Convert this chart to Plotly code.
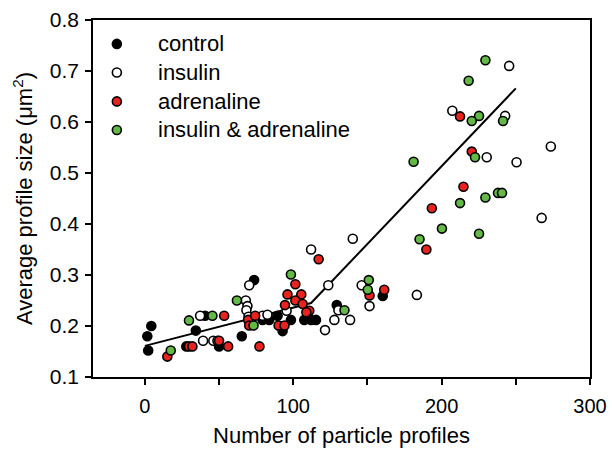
import plotly.graph_objects as go

# ---- data ----
control_x = [2.2, 1.6, 4.3, 34.3, 27.9, 40.5, 50.0, 65.3, 73.6, 79.3, 83.8, 89.4, 92.8,
             98.4, 107.4, 112.0, 115.3, 129.3, 160.3]
control_y = [0.152, 0.180, 0.200, 0.191, 0.160, 0.220, 0.160, 0.180, 0.290, 0.212, 0.212,
             0.220, 0.190, 0.212, 0.212, 0.212, 0.212, 0.241, 0.259]

insulin_x = [37.2, 39.2, 46.1, 48.9, 68.0, 69.1, 68.4, 69.8, 70.3, 79.3, 82.6, 95.5, 112.0,
             123.6, 121.4, 127.7, 130.4, 138.3, 140.1, 146.1, 151.4, 183.3, 207.2, 242.8,
             245.5, 230.4, 250.5, 273.6, 267.4]
insulin_y = [0.220, 0.171, 0.171, 0.171, 0.250, 0.239, 0.231, 0.218, 0.280, 0.220, 0.222,
             0.230, 0.350, 0.280, 0.192, 0.212, 0.231, 0.212, 0.371, 0.280, 0.239, 0.261,
             0.622, 0.612, 0.710, 0.531, 0.521, 0.552, 0.412]

adrenaline_x = [15.1, 29.7, 32.0, 53.4, 50.0, 56.1, 77.2, 69.6, 74.3, 70.3, 90.1, 94.1,
                101.4, 96.1, 105.4, 101.4, 94.4, 106.3, 110.8, 108.8, 117.1, 151.4, 161.3,
                189.7, 193.4, 212.4, 220.3, 214.7]
adrenaline_y = [0.140, 0.160, 0.160, 0.220, 0.171, 0.160, 0.160, 0.212, 0.220, 0.201, 0.201,
                0.201, 0.282, 0.262, 0.262, 0.250, 0.241, 0.243, 0.230, 0.227, 0.331, 0.260,
                0.271, 0.350, 0.431, 0.611, 0.542, 0.473]

both_x = [17.4, 29.7, 45.5, 62.0, 73.2, 98.4, 134.5, 150.9, 150.2, 181.1, 185.1, 200.2,
          212.4, 225.2, 229.5, 238.0, 240.7, 218.2, 229.5, 225.2, 220.3, 241.4, 222.5]
both_y = [0.152, 0.211, 0.220, 0.250, 0.201, 0.301, 0.231, 0.290, 0.271, 0.522, 0.370,
          0.391, 0.441, 0.381, 0.452, 0.461, 0.461, 0.681, 0.721, 0.612, 0.602, 0.602, 0.531]

trend_x = [0, 112, 250]
trend_y = [0.161, 0.245, 0.666]

series_names = ["control", "insulin", "adrenaline", "insulin & adrenaline"]
series_colors = ["black", "white", "#E8231F", "#62B946"]

x_ticks = [0, 100, 200, 300]
x_minor_ticks = [50, 150, 250]
y_ticks = [0.1, 0.2, 0.3, 0.4, 0.5, 0.6, 0.7, 0.8]

FONT = "Liberation Sans, Arial, sans-serif"

fig = go.Figure()

fig.add_trace(go.Scatter(x=trend_x, y=trend_y, mode="lines",
                         line=dict(color="black", width=2), showlegend=False,
                         hoverinfo="skip"))

data = [(control_x, control_y), (insulin_x, insulin_y),
        (adrenaline_x, adrenaline_y), (both_x, both_y)]
for name, col, (xs, ys) in zip(series_names, series_colors, data):
    fig.add_trace(go.Scatter(
        x=xs, y=ys, mode="markers", name=name, showlegend=False,
        marker=dict(size=9, color=col, line=dict(color="black", width=1.6)),
    ))

# legend drawn as shapes + annotations (paper coordinates)
leg_marker_x = 0.048
leg_text_x = 0.126
leg_rows_y = [0.933, 0.853, 0.772, 0.692]
for name, col, ly in zip(series_names, series_colors, leg_rows_y):
    fig.add_shape(type="circle", xref="paper", yref="paper",
                  xsizemode="pixel", ysizemode="pixel",
                  xanchor=leg_marker_x, yanchor=ly, x0=-4.5, x1=4.5, y0=-4.5, y1=4.5,
                  fillcolor=col, line=dict(color="black", width=1.6))
    fig.add_annotation(text=name, xref="paper", yref="paper", x=leg_text_x, y=ly,
                       xanchor="left", yanchor="middle", showarrow=False,
                       font=dict(size=22, family=FONT, color="black"))

fig.update_layout(
    width=612, height=451,
    margin=dict(l=93, r=22, t=20, b=74),
    paper_bgcolor="white", plot_bgcolor="white",
    font=dict(family=FONT, size=20, color="black"),
    showlegend=False,
    xaxis=dict(range=[-35, 300], tickvals=x_ticks, ticks="outside", ticklen=6,
               tickwidth=1.5, tickcolor="black", showline=True, linecolor="black",
               linewidth=1.5, mirror=True, showgrid=False, zeroline=False,
               automargin=False,
               tickfont=dict(size=20), ticklabelstandoff=4,
               minor=dict(tickvals=x_minor_ticks, ticks="outside", ticklen=6,
                          tickwidth=1.5, tickcolor="black"),
               title=dict(text="Number of particle profiles", font=dict(size=22),
                          standoff=12)),
    yaxis=dict(range=[0.1, 0.8], tickvals=y_ticks, tickformat=".1f", ticks="outside",
               ticklen=6, tickwidth=1.5, tickcolor="black", showline=True,
               linecolor="black", linewidth=1.5, mirror=True, showgrid=False,
               zeroline=False, automargin=False,
               tickfont=dict(size=21), ticklabelstandoff=2,
               title=dict(text="Average profile size (μm<sup>2</sup>)",
                          font=dict(size=22), standoff=11)),
)

fig.write_html("out.html", config={"displayModeBar": False},
               post_script="document.body.style.margin='0';document.body.style.padding='0';")
